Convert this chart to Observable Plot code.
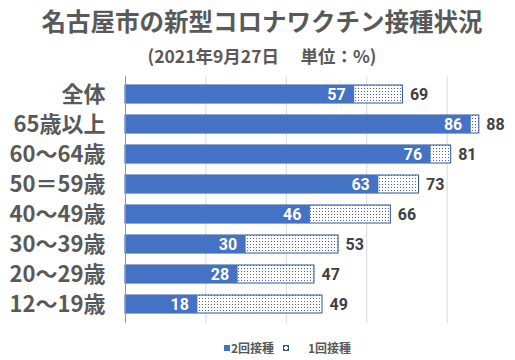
<!DOCTYPE html>
<html><head><meta charset="utf-8">
<script src="https://cdn.jsdelivr.net/npm/d3@7"></script>
<script src="https://cdn.jsdelivr.net/npm/@observablehq/plot@0.6"></script>
<style>
body{margin:0;background:#fff;font-family:'Noto Sans CJK JP',sans-serif;}
#wrap{position:relative;width:515px;height:360px;overflow:hidden;}
#title{position:absolute;left:0;width:524px;top:7px;text-align:center;font-size:24.5px;line-height:28px;font-weight:bold;color:#595959;}
#sub{position:absolute;left:0;width:524px;top:46px;text-align:center;font-size:17.5px;line-height:20px;font-weight:bold;color:#595959;white-space:pre;}
#chart{position:absolute;left:0;top:72px;}
.leg{position:absolute;font-size:12px;line-height:14px;font-weight:bold;color:#595959;top:341px;}
.sw{position:absolute;top:345px;}
</style></head><body>
<div id="wrap">
<div id="title">名古屋市の新型コロナワクチン接種状況</div>
<div id="sub">(2021年9月27日　 単位：%)</div>
<div id="chart"></div>
<div id="legend"></div>
</div>
<script>
const categories = ["全体","65歳以上","60〜64歳","50＝59歳","40〜49歳","30〜39歳","20〜29歳","12〜19歳"];
const secondDose = [57,86,76,63,46,30,28,18];
const firstDose = [69,88,81,73,66,53,47,49];
const gridTicks = [20,40,60,80];
const seriesNames = ["2回接種","1回接種"];

const data = categories.map((c,i)=>({cat:c, second:secondDose[i], first:firstDose[i]}));

const plot = Plot.plot({
  width:515, height:256, marginTop:4, marginBottom:5, marginLeft:125, marginRight:0,
  x:{domain:[0,97], axis:null},
  y:{domain:categories, paddingInner:0.385, paddingOuter:0.1925, label:null},
  style:{fontFamily:"'Noto Sans CJK JP', sans-serif", background:"transparent", color:"#595959"},
  marks:[
    Plot.ruleX(gridTicks,{stroke:"#d9d9d9", strokeWidth:1}),
    Plot.barX(data,{y:"cat", x1:0, x2:"first", fill:"url(#dots)", stroke:"#2f5597", strokeWidth:1}),
    Plot.barX(data,{y:"cat", x1:0, x2:"second", fill:"#4472c4"}),
    Plot.ruleX([0],{stroke:"#8497b0", strokeWidth:1}),
    Plot.text(data,{y:"cat", x:"second", text:d=>String(d.second), dx:-9, textAnchor:"end", fill:"white", fontWeight:"bold", fontSize:16, fontFamily:"Roboto, sans-serif"}),
    Plot.text(data,{y:"cat", x:"first", text:d=>String(d.first), dx:7, textAnchor:"start", fill:"#404040", fontWeight:"bold", fontSize:16, fontFamily:"Roboto, sans-serif"}),
    Plot.axisY({tickSize:0, tickPadding:20, fontSize:22, fontWeight:"bold", fill:"#595959", label:null})
  ]
});
d3.select(plot).insert("defs",":first-child").html(
  '<pattern id="dots" width="3" height="3" patternUnits="userSpaceOnUse"><rect width="3" height="3" fill="white"/><rect x="1" y="1" width="1" height="1" fill="#50648c"/></pattern>'
);
document.getElementById("chart").appendChild(plot);

const leg = document.getElementById("legend");
leg.innerHTML =
  '<svg class="sw" style="left:224px" width="6" height="6"><rect width="6" height="6" fill="#4472c4"/></svg>' +
  '<div class="leg" style="left:231px">' + seriesNames[0] + '</div>' +
  '<svg class="sw" style="left:283px" width="6" height="6"><rect x="0.5" y="0.5" width="5" height="5" fill="url(#dots)" stroke="#2f5597"/></svg>' +
  '<div class="leg" style="left:308px">' + seriesNames[1] + '</div>';
</script>
</body></html>
